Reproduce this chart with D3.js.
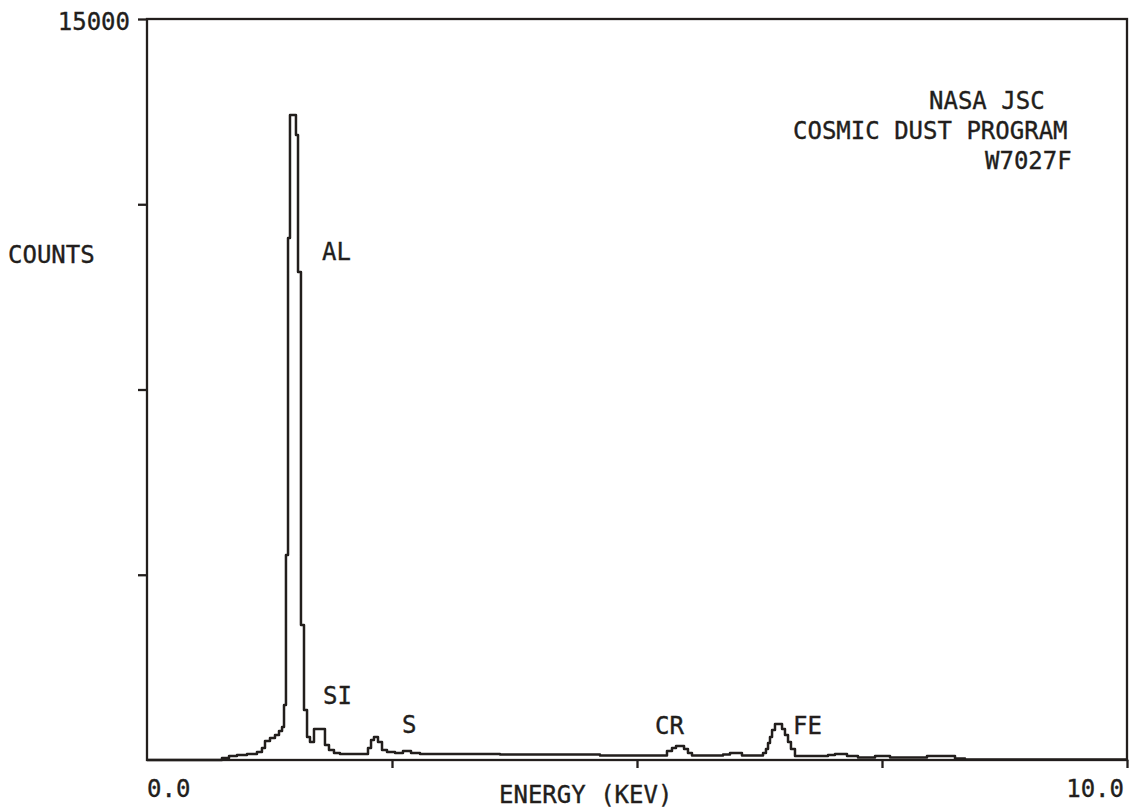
<!DOCTYPE html>
<html>
  <head>
    <meta charset="utf-8" />
    <title>EDS spectrum W7027F</title>
    <script src="https://d3js.org/d3.v7.min.js"></script>
    <style>
      body {
        margin: 0;
        background: #fff;
      }
      text {
        font-family: "DejaVu Sans Mono", "Liberation Mono", monospace;
        font-size: 24px;
        fill: #221e1c;
        stroke: #221e1c;
        stroke-width: 0.35px;
      }
    </style>
  </head>
  <body>

    <svg id="chart">
      <g id="frame"></g>
      <g id="x"></g>
      <g id="y"></g>
      <g id="shapes"></g>
      <g id="labels"></g>
    </svg>

    <script>

      // spectrum (energy in keV where each step starts, counts)
      var energy = [0.0, 0.765, 0.837, 0.918, 1.02, 1.122, 1.173, 1.204, 1.255, 1.306, 1.347, 1.378,
        1.398, 1.418, 1.439, 1.459, 1.52, 1.541, 1.571, 1.602, 1.633, 1.663, 1.704, 1.816, 1.857,
        1.908, 1.969, 2.255, 2.286, 2.316, 2.357, 2.398, 2.449, 2.531, 2.612, 2.694, 2.786, 3.602,
        4.622, 5.306, 5.357, 5.398, 5.48, 5.52, 5.561, 5.878, 5.949, 6.071, 6.286, 6.316, 6.337,
        6.357, 6.378, 6.408, 6.48, 6.51, 6.541, 6.571, 6.612, 6.949, 7.02, 7.143, 7.255, 7.429,
        7.582, 7.959, 8.245, 8.347, 10.0];
      var counts = [0, 40, 81, 101, 121, 162, 243, 385, 445, 506, 587, 668,
        1113, 4150, 10567, 13057, 12652, 9879, 2733, 1012, 466, 364, 628, 304, 202,
        142, 121, 243, 405, 466, 364, 202, 162, 142, 182, 142, 121, 110,
        91, 182, 243, 283, 223, 142, 91, 111, 142, 91, 142, 223, 344,
        466, 607, 729, 628, 506, 364, 223, 81, 101, 121, 81, 51, 81,
        51, 81, 30, 10, 0];

      var yTicks = [3750, 7500, 11250, 15000];
      var yTickLabels = { 15000: "15000" };
      var xTicks = [2.5, 5, 7.5, 10];
      var xLabelValues = [0, 10];
      var xLabelText = ["0.0", "10.0"];

      var peakNames = ["AL", "SI", "S", "CR", "FE"];
      var peakEnergy = [1.786, 1.796, 2.602, 5.184, 6.592];
      var peakCounts = [10120, 1140, 555, 535, 535];

      var creditLines = ["NASA JSC", "COSMIC DUST PROGRAM", "W7027F"];

      var width = 1130;
      var height = 812;
      var margin = { top: 19, right: 3, bottom: 52, left: 147 };
      var ink = "#221e1c";

      var svg = d3.select("#chart")
        .attr("width", width)
        .attr("height", height);

      var x = d3.scaleLinear()
        .domain([0, 10])
        .range([margin.left, width - margin.right]);

      var y = d3.scaleLinear()
        .domain([0, 15000])
        .range([height - margin.bottom, margin.top]);

      // box round the plot
      svg.select("#frame").append("rect")
        .attr("x", x(0))
        .attr("y", y(15000))
        .attr("width", x(10) - x(0))
        .attr("height", y(0) - y(15000))
        .attr("fill", "none")
        .attr("stroke", ink)
        .attr("stroke-width", 2.3);

      var yAxis = d3.axisLeft(y)
        .tickValues(yTicks)
        .tickSize(9)
        .tickSizeOuter(0)
        .tickPadding(8)
        .tickFormat(function(d) { return yTickLabels[d] || ""; });

      svg.select("#y")
        .attr("transform", "translate(" + x(0) + ",0)")
        .call(yAxis);

      var xAxis = d3.axisBottom(x)
        .tickValues(xTicks)
        .tickSize(8)
        .tickSizeOuter(0)
        .tickFormat("");

      svg.select("#x")
        .attr("transform", "translate(0," + y(0) + ")")
        .call(xAxis);

      svg.selectAll("#x path, #y path").remove();
      svg.selectAll(".tick line")
        .attr("stroke", ink)
        .attr("stroke-width", 2.3);
      svg.selectAll("#y .tick text")
        .attr("dy", "0.45em")
        .style("font-family", "DejaVu Sans Mono")
        .style("font-size", "24px")
        .attr("fill", ink);

      // end labels on the energy axis
      svg.select("#labels").selectAll(".xlab")
        .data(xLabelValues)
        .enter().append("text")
        .attr("class", "xlab")
        .attr("x", function(d) { return x(d) + (d === 0 ? 0 : -3); })
        .attr("y", y(0) + 37)
        .attr("text-anchor", function(d) { return d === 0 ? "start" : "end"; })
        .text(function(d, i) { return xLabelText[i]; });

      svg.select("#labels").append("text")
        .attr("x", 499)
        .attr("y", y(0) + 43)
        .text("ENERGY (KEV)");

      svg.select("#labels").append("text")
        .attr("x", 8)
        .attr("y", 263)
        .text("COUNTS");

      // the plotter did not line these three up exactly
      var creditX = [929, 793, 985];
      svg.select("#labels").selectAll(".credit")
        .data(creditLines)
        .enter().append("text")
        .attr("class", "credit")
        .attr("x", function(d, i) { return creditX[i]; })
        .attr("y", function(d, i) { return 109 + i * 30; })
        .text(function(d) { return d; });

      // spectrum trace
      var line = d3.line()
        .x(function(d) { return x(d[0]); })
        .y(function(d) { return y(d[1]); })
        .curve(d3.curveStepAfter);

      svg.select("#shapes").append("path")
        .datum(d3.zip(energy, counts))
        .attr("fill", "none")
        .attr("stroke", ink)
        .attr("stroke-width", 2.5)
        .attr("stroke-linejoin", "round")
        .attr("d", line);

      // element labels
      svg.select("#labels").selectAll(".peak")
        .data(peakNames)
        .enter().append("text")
        .attr("class", "peak")
        .attr("x", function(d, i) { return x(peakEnergy[i]); })
        .attr("y", function(d, i) { return y(peakCounts[i]); })
        .text(function(d) { return d; });

    </script>

  </body>
</html>
